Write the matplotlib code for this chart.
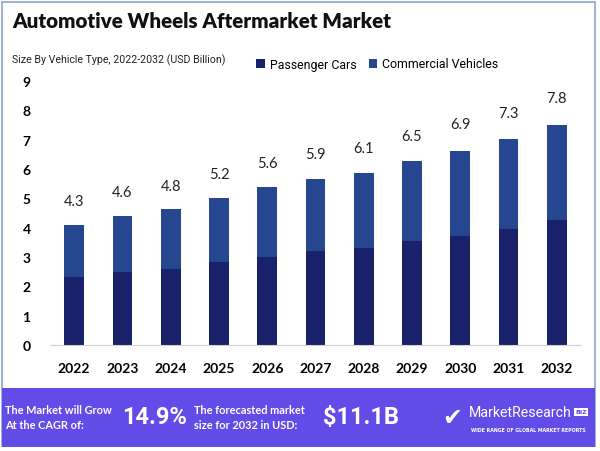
import matplotlib.pyplot as plt
from matplotlib.patches import Rectangle

# dados do gráfico
anos = ['2022', '2023', '2024', '2025', '2026', '2027', '2028', '2029', '2030', '2031', '2032']
passageiros = [2.32, 2.48, 2.60, 2.83, 3.01, 3.20, 3.32, 3.54, 3.73, 3.97, 4.26]
comerciais = [1.78, 1.91, 2.04, 2.17, 2.36, 2.47, 2.56, 2.72, 2.88, 3.04, 3.25]
rotulos = [4.3, 4.6, 4.8, 5.2, 5.6, 5.9, 6.1, 6.5, 6.9, 7.3, 7.8]

cor_pass = '#19216A'
cor_com = '#26468F'
cor_banner = '#624BE6'

fig = plt.figure(figsize=(6, 4.52), dpi=100)
fig.patch.set_facecolor('white')

# moldura
fig.patches.append(Rectangle((0.004, 0.01), 0.988, 0.984, transform=fig.transFigure,
                             fill=False, edgecolor='#8FA3CC', linewidth=1.2))

ax = fig.add_axes([50 / 600, 106 / 452, 531 / 600, 264 / 452])
x = range(len(anos))
ax.bar(x, passageiros, width=0.41, color=cor_pass, label='Passenger Cars')
ax.bar(x, comerciais, width=0.41, bottom=passageiros, color=cor_com, label='Commercial Vehicles')

for i, v in enumerate(rotulos):
    ax.annotate(f'{v}', (i, v), xytext=(0, 8), textcoords='offset points',
                ha='center', va='bottom', fontsize=10.5, color='#222222', family='Lato')

ax.set_xlim(-0.5, 10.5)
ax.set_ylim(0, 9)
ax.set_yticks(range(10))
ax.set_xticks(list(x))
ax.set_xticklabels(anos)
for spine in ['top', 'right', 'left']:
    ax.spines[spine].set_visible(False)
ax.spines['bottom'].set_color('#D0D0D0')
ax.tick_params(axis='both', length=0, labelsize=10)
ax.tick_params(axis='x', pad=12)
ax.tick_params(axis='y', pad=14)
for t in ax.get_xticklabels() + ax.get_yticklabels():
    t.set_fontweight('bold')
    t.set_family('Lato')

# títulos
fig.text(12 / 600, 1 - 22 / 452, 'Automotive Wheels Aftermarket Market', fontsize=14.8,
         fontweight='heavy', family='Lato', va='center', ha='left', color='#111111')
fig.text(12 / 600, 1 - 60 / 452, 'Size By Vehicle Type, 2022-2032 (USD Billion)', fontsize=7.7,
         family='Roboto', va='center', ha='left', color='#222222')

# legenda
ax.legend(loc='center left', bbox_to_anchor=(256 / 600, 1 - 65 / 452), bbox_transform=fig.transFigure,
          ncol=2, frameon=False, handlelength=0.7, handleheight=0.7, borderaxespad=0, borderpad=0,
          handletextpad=0.4, columnspacing=1.0, prop={'family': 'Roboto', 'size': 8.9})

# faixa inferior
fig.patches.append(Rectangle((0.004, 1 - 448 / 452), 0.988, 59 / 452, transform=fig.transFigure,
                             facecolor=cor_banner, edgecolor='none'))
yb = 1 - 418 / 452
fig.text(5 / 600, yb, 'The Market will Grow\nAt the CAGR of:', color='white', fontsize=7.9,
         fontweight='bold', family='Lato', va='center', ha='left', linespacing=1.35)
fig.text(122 / 600, yb, '14.9%', color='white', fontsize=17, fontweight='bold',
         family='Roboto', va='center', ha='left')
fig.text(194 / 600, yb, 'The forecasted market\nsize for 2032 in USD:', color='white', fontsize=7.9,
         fontweight='bold', family='Lato', va='center', ha='left', linespacing=1.35)
fig.text(323 / 600, yb, '$11.1B', color='white', fontsize=17, fontweight='bold',
         family='Roboto', va='center', ha='left')
fig.text(452 / 600, yb, '\u2714', color='white', fontsize=17, va='center', ha='center')
fig.text(469 / 600, 1 - 413 / 452, 'MarketResearch', color='white', fontsize=10.2,
         family='Roboto', va='center', ha='left')
fig.text(575 / 600, 1 - 413 / 452, 'BIZ', color=cor_banner, fontsize=4.5, fontweight='bold',
         va='center', ha='left', bbox=dict(facecolor='white', edgecolor='none', pad=1))
fig.text(471 / 600, 1 - 431 / 452, 'WIDE RANGE OF GLOBAL MARKET REPORTS', color='white',
         fontsize=3.4, fontweight='bold', va='center', ha='left')

plt.savefig('out.png', dpi=100)
